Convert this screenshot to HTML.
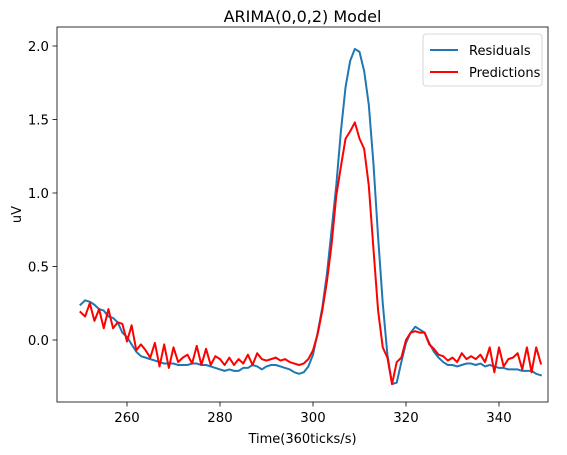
<!DOCTYPE html>
<html><head><meta charset="utf-8"><style>body{margin:0;background:#fff}svg{display:block;font-family:"DejaVu Sans","Liberation Sans",sans-serif}</style></head>
<body>
<svg id="chart" width="567" height="455"></svg>
<script>
const startT = 250;
const residuals = [0.24,0.27,0.26,0.24,0.21,0.20,0.16,0.15,0.12,0.05,0.02,-0.03,-0.08,-0.11,-0.12,-0.13,-0.14,-0.15,-0.16,-0.16,-0.16,-0.17,-0.17,-0.17,-0.16,-0.16,-0.17,-0.17,-0.18,-0.19,-0.20,-0.21,-0.20,-0.21,-0.21,-0.19,-0.19,-0.17,-0.18,-0.20,-0.18,-0.17,-0.17,-0.18,-0.19,-0.20,-0.22,-0.23,-0.22,-0.18,-0.10,0.05,0.22,0.45,0.75,1.05,1.42,1.72,1.90,1.98,1.96,1.83,1.60,1.20,0.70,0.25,-0.10,-0.30,-0.29,-0.15,-0.02,0.05,0.09,0.07,0.05,-0.02,-0.08,-0.12,-0.15,-0.17,-0.17,-0.18,-0.17,-0.16,-0.16,-0.17,-0.16,-0.18,-0.17,-0.18,-0.19,-0.19,-0.20,-0.20,-0.20,-0.21,-0.21,-0.21,-0.23,-0.24];
const predictions = [0.19,0.16,0.25,0.13,0.21,0.08,0.21,0.08,0.12,0.11,-0.01,0.10,-0.07,-0.03,-0.07,-0.12,-0.02,-0.18,-0.03,-0.19,-0.05,-0.15,-0.12,-0.10,-0.16,-0.04,-0.17,-0.06,-0.17,-0.11,-0.13,-0.17,-0.12,-0.17,-0.13,-0.16,-0.10,-0.17,-0.09,-0.13,-0.14,-0.13,-0.12,-0.14,-0.13,-0.15,-0.16,-0.17,-0.16,-0.13,-0.07,0.04,0.20,0.40,0.65,0.98,1.18,1.37,1.42,1.48,1.37,1.30,1.05,0.62,0.20,-0.05,-0.12,-0.30,-0.15,-0.12,0.00,0.05,0.06,0.05,0.05,-0.03,-0.06,-0.10,-0.11,-0.14,-0.12,-0.15,-0.09,-0.13,-0.11,-0.13,-0.10,-0.15,-0.05,-0.22,-0.05,-0.18,-0.13,-0.12,-0.09,-0.20,-0.05,-0.22,-0.05,-0.16];
const xTicks = [260,280,300,320,340];
const yTicks = [0.0,0.5,1.0,1.5,2.0];

const NS='http://www.w3.org/2000/svg';
const svg=document.getElementById('chart');
const L=57,R=548,T=27,B=402;
const x=t=>127+(t-260)*4.65;
const y=v=>340-v*147;
function mk(tag,attrs,parent){const e=document.createElementNS(NS,tag);for(const k in attrs)e.setAttribute(k,attrs[k]);(parent||svg).appendChild(e);return e;}

const xg=mk('g',{});


xTicks.forEach(t=>{
  mk('line',{x1:x(t),x2:x(t),y1:B,y2:B+4.5,stroke:'#000','stroke-width':0.8},xg);
  const tx=mk('text',{x:x(t),y:B+20,'text-anchor':'middle','font-size':13.3},xg);
  tx.textContent=t;
  
  
});
const yg=mk('g',{});


yTicks.forEach(v=>{
  mk('line',{x1:L-4.5,x2:L,y1:y(v),y2:y(v),stroke:'#000','stroke-width':0.8},yg);
  const tx=mk('text',{x:L-8,y:y(v)+5,'text-anchor':'end','font-size':13.3},yg);
  tx.textContent=v.toFixed(1);
  
  
});

function series(data,color,name){
  const p=mk('polyline',{points:data.map((v,i)=>x(startT+i)+','+y(v)).join(' '),fill:'none',stroke:color,'stroke-width':2,'stroke-linejoin':'round','stroke-linecap':'square'});
  
  
}
series(residuals,'#1f77b4','residuals-line');
series(predictions,'#ff0000','predictions-line');

const frame=mk('rect',{x:L,y:T,width:R-L,height:B-T,fill:'none',stroke:'#000','stroke-width':0.8});



const title=mk('text',{x:(L+R)/2,y:22,'text-anchor':'middle','font-size':16});
title.textContent='ARIMA(0,0,2) Model';


const xl=mk('text',{x:(L+R)/2,y:443,'text-anchor':'middle','font-size':13});
xl.textContent='Time(360ticks/s)';


const yl=mk('text',{x:21,y:(T+B)/2,'text-anchor':'middle','font-size':13,transform:'rotate(-90 21 '+(T+B)/2+')'});
yl.textContent='uV';



const lg=mk('g',{});


mk('rect',{x:423,y:34,width:119,height:52,rx:3,fill:'#fff',stroke:'#ccc','stroke-width':0.8},lg);
[['Residuals','#1f77b4',50],['Predictions','#ff0000',72]].forEach(([n,c,yy])=>{
  const e=mk('g',{},lg);
  
  
  mk('line',{x1:430,x2:458,y1:yy,y2:yy,stroke:c,'stroke-width':2},e);
  const t=mk('text',{x:469,y:yy+5,'font-size':13},e);
  t.textContent=n;
});
</script>
</body></html>
